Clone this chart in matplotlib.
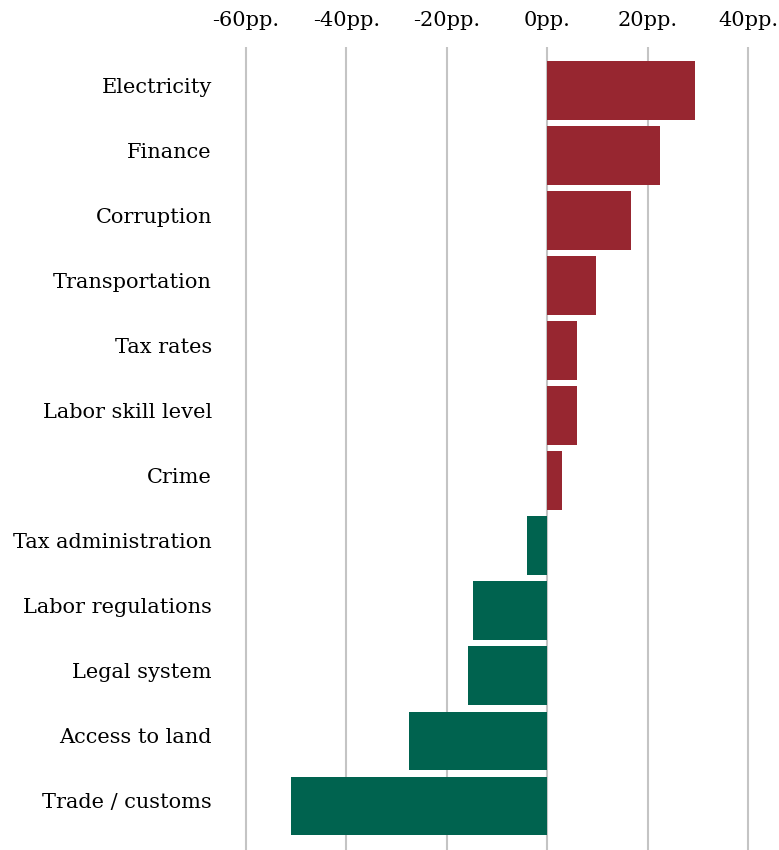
"""
Change in share of firms citing each obstacle (percentage points).

Outputs:
  out.png
"""
import matplotlib
matplotlib.use("Agg")
import matplotlib.pyplot as plt
from matplotlib.ticker import FuncFormatter
from matplotlib.transforms import ScaledTranslation

CATEGORIES = ["Electricity", "Finance", "Corruption", "Transportation", "Tax rates",
              "Labor skill level", "Crime", "Tax administration", "Labor regulations",
              "Legal system", "Access to land", "Trade / customs"]
CHANGE_PP  = [29.4, 22.4, 16.7, 9.7, 5.9, 5.9, 2.9, -4.0, -14.8, -15.8, -27.5, -51.0]
X_TICKS    = [-60, -40, -20, 0, 20, 40]

RED   = "#972630"
GREEN = "#00634f"
GRID  = "#c4c4c4"

plt.rcParams.update({
    "font.family": "DejaVu Serif",
    "font.size": 15,
})

W, H = 779, 850
fig = plt.figure(figsize=(W / 100, H / 100), dpi=100)

# axes placed so that the x scale is ~5 px per pp with zero at x=547
x0, x1 = -63, 46
ax_left, ax_right = 230.7, 778.4
ax_top, ax_bottom = 47, 850
ax = fig.add_axes([ax_left / W, 1 - ax_bottom / H,
                   (ax_right - ax_left) / W, (ax_bottom - ax_top) / H])

ypos = list(range(len(CATEGORIES)))
colors = [RED if v > 0 else GREEN for v in CHANGE_PP]
ax.barh(ypos, CHANGE_PP, height=0.9, color=colors, zorder=3)

ax.set_xlim(x0, x1)
ax.set_ylim(len(CATEGORIES) - 0.32, -0.67)
ax.set_xticks(X_TICKS)
ax.xaxis.set_major_formatter(FuncFormatter(lambda v, _: f"{int(v)}pp."))
ax.xaxis.tick_top()
ax.tick_params(axis="x", length=0, pad=12, labelsize=15)
ax.set_yticks(ypos)
ax.set_yticklabels(CATEGORIES)
ax.tick_params(axis="y", length=0, pad=13.5, labelsize=15)

# category labels sit a little above the bar centres
shift = ScaledTranslation(0, 5 / 100, fig.dpi_scale_trans)
for lbl in ax.get_yticklabels():
    lbl.set_transform(lbl.get_transform() + shift)

ax.grid(axis="x", color=GRID, linewidth=1.5, zorder=0)
for s in ax.spines.values():
    s.set_visible(False)

fig.savefig("out.png", dpi=100)
plt.close(fig)
